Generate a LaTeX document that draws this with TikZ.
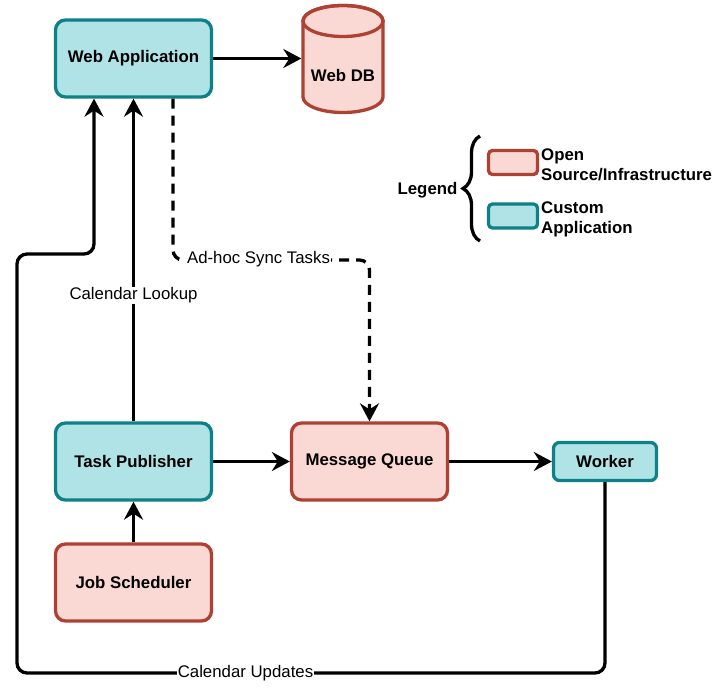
\documentclass[tikz,border=0pt]{standalone}
\usepackage{fontspec}
\setmainfont{Liberation Sans}
\usepackage{tikz}
\usetikzlibrary{arrows.meta,decorations.pathreplacing}

\definecolor{appfill}{HTML}{B0E3E6}
\definecolor{appline}{HTML}{0E8088}
\definecolor{ossfill}{HTML}{FAD9D5}
\definecolor{ossline}{HTML}{AE4132}

\newcommand{\diagfont}{\fontsize{16.8}{20}\selectfont}

\tikzset{
	diagbox/.style={line width=3.3pt, rounded corners=10pt, minimum width=156pt, minimum height=77pt, font=\diagfont\bfseries},
	appbox/.style={diagbox, draw=appline, fill=appfill},
	ossbox/.style={diagbox, draw=ossline, fill=ossfill},
	flow/.style={line width=3.3pt, -{Stealth[length=18pt,width=19pt,inset=6pt]}},
	edgelabel/.style={fill=white, inner sep=1pt, font=\diagfont},
	keybox/.style={line width=3.3pt, rounded corners=4pt, minimum width=49pt, minimum height=24pt},
	keytext/.style={anchor=north west, align=left, inner sep=0pt, font=\diagfont\bfseries},
}

\begin{document}
\begin{tikzpicture}[x=1pt, y=-1pt]
		%%%%% START %%%%%
		\useasboundingbox (0,0) rectangle (720,691);
		
		% web tier
		\node[appbox] (webapp) at (133.5,58.5) {Web Application};
		
		\draw[line width=3.3pt, draw=ossline, fill=ossfill] (303,21) -- (303,97) arc[start angle=180, end angle=0, x radius=40, y radius=15.5] -- (383,21) arc[start angle=0, end angle=-180, x radius=40, y radius=15.5] -- cycle;
		\draw[line width=3.3pt, draw=ossline] (343,21) ellipse [x radius=40, y radius=15.5];
		\node[font=\diagfont\bfseries, minimum width=83pt, inner sep=0pt] (webdb) at (343,75) {Web DB};
		
		\draw[flow] (webapp) -- (webapp -| webdb.west);
		
		% task tier
		\node[appbox] (taskpub) at (133.5,461.5) {Task Publisher};
		\node[ossbox] (msgq) at (369.5,461.5) {Message Queue};
		\node[appbox, minimum width=103pt, minimum height=38pt, rounded corners=6pt] (worker) at (605,461.5) {Worker};
		\node[ossbox] (jobsched) at (133.5,582.5) {Job Scheduler};
		
		\draw[flow] (taskpub) -- (msgq);
		\draw[flow] (msgq) -- (worker);
		\draw[flow] (jobsched) -- (taskpub);
		\draw[flow] (taskpub) -- node[edgelabel, pos=0.39] (lookuplabel) {Calendar Lookup} (webapp);
		
		% ad-hoc sync
		\coordinate (syncturn) at (369.5,260);
		\draw[flow, dash pattern=on 10pt off 7pt, rounded corners=10pt] ([xshift=39.5pt]webapp.south) |- (syncturn) -- (msgq);
		\node[edgelabel] (synclabel) at (258.5,259) {Ad-hoc Sync Tasks};
		
		% calendar updates
		\coordinate (loopbottom) at (17,673);
		\coordinate (looptop) at (17,254);
		\draw[flow, rounded corners=10pt] (worker) |- (loopbottom) -- (looptop) -| ([xshift=-39.5pt]webapp.south);
		\node[edgelabel] (updlabel) at (245.5,673) {Calendar Updates};
		
		% legend
		\node[font=\diagfont\bfseries, inner sep=0pt] (legend) at (427.5,190) {Legend};
		\coordinate (bracetop) at (480,136);
		\coordinate (bracebottom) at (480,241);
		\draw[line width=3.3pt, decorate, decoration={brace, amplitude=17pt}] (bracebottom) -- (bracetop);
		
		\node[keybox, draw=ossline, fill=ossfill] (osskey) at (513,162.5) {};
		\node[keybox, draw=appline, fill=appfill] (appkey) at (513,216) {};
		\node[keytext] (osstext) at (541,149) {Open\\Source/Infrastructure};
		\node[keytext] (apptext) at (541,202) {Custom\\Application};
		
		%%%%% END %%%%%
\end{tikzpicture}
\end{document}
